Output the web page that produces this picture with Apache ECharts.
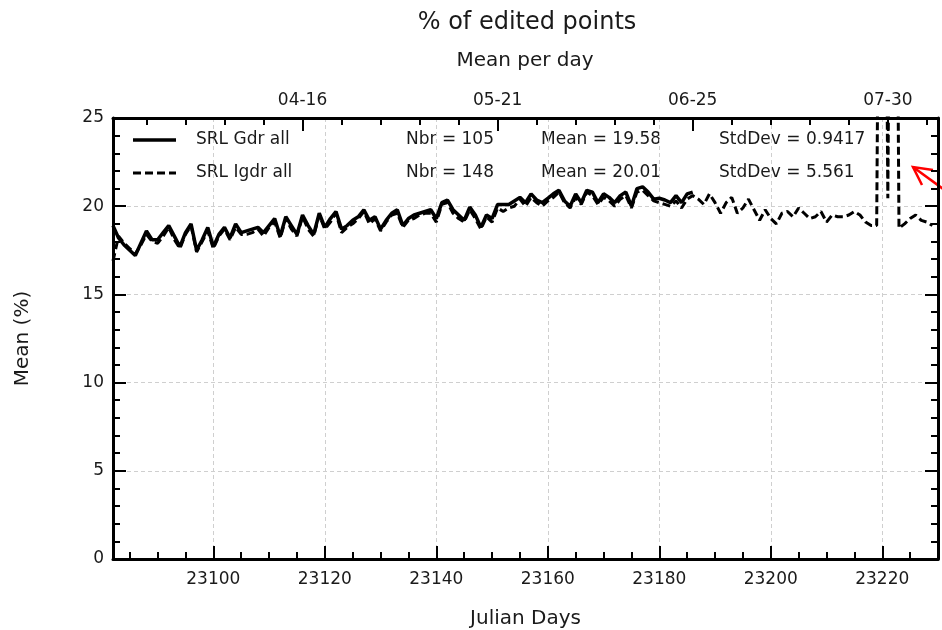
<!DOCTYPE html>
<html><head><meta charset="utf-8">
<script src="https://cdn.jsdelivr.net/npm/echarts@6/dist/echarts.min.js"></script>
<style>html,body{margin:0;padding:0;background:#fff}#c{width:942px;height:630px}</style>
</head><body><div id="c"></div>
<script>
// ---- data ----
const firstDay = 23082;
const seriesNames = ['SRL Gdr all', 'SRL Igdr all'];
// SRL Gdr all : one value per day from 23082 (105 days)
const gdrValues = [
 18.9,18.2,17.8,17.5,17.2,17.9,18.6,18.1,18.1,18.5,
 18.9,18.3,17.7,18.5,19.0,17.5,18.1,18.8,17.7,18.4,
 18.8,18.2,19.0,18.5,18.6,18.7,18.8,18.5,18.9,19.3,
 18.3,19.4,18.9,18.4,19.5,18.9,18.4,19.6,18.8,19.3,
 19.7,18.7,18.9,19.2,19.4,19.8,19.2,19.4,18.7,19.2,
 19.6,19.8,18.9,19.3,19.5,19.6,19.7,19.8,19.3,20.2,
 20.35,19.8,19.5,19.2,19.95,19.5,18.8,19.5,19.3,20.1,
 20.1,20.1,20.3,20.5,20.2,20.7,20.35,20.2,20.45,20.7,
 20.9,20.3,20.0,20.7,20.2,20.9,20.8,20.2,20.7,20.5,
 20.2,20.6,20.8,20.0,21.0,21.1,20.8,20.4,20.45,20.35,
 20.2,20.6,20.2,20.7,20.8
];
// SRL Igdr all : one value per day from 23082 (148 days)
const igdrValues = [
 16.9,18.3,17.9,17.6,17.3,17.8,18.4,18.0,17.9,18.3,
 18.8,18.1,17.6,18.4,18.9,17.4,18.0,18.6,17.6,18.3,
 18.7,18.1,18.8,18.4,18.4,18.5,18.7,18.3,18.8,19.1,
 18.2,19.3,18.7,18.3,19.4,18.7,18.3,19.5,18.7,19.1,
 19.6,18.5,18.8,19.0,19.3,19.7,19.0,19.3,18.6,19.1,
 19.5,19.6,18.8,19.2,19.3,19.5,19.6,19.6,19.1,20.1,
 20.2,19.6,19.3,19.1,19.8,19.3,18.7,19.4,19.1,19.9,
 19.7,19.9,20.0,20.4,20.0,20.5,20.2,20.0,20.3,20.5,
 20.8,20.2,19.9,20.5,20.1,20.8,20.6,20.1,20.5,20.3,
 20.0,20.4,20.6,19.9,20.8,20.9,20.6,20.3,20.2,20.1,
 20.0,20.3,19.9,20.4,20.6,
 20.4,20.1,20.7,20.2,19.6,20.2,20.5,19.6,19.9,20.4,
 19.8,19.2,19.8,19.3,19.0,19.6,19.7,19.4,19.9,19.6,
 19.3,19.4,19.7,19.1,19.5,19.4,19.4,19.5,19.7,19.5,
 19.1,18.9,18.9,64,20.45,66,18.75,19.0,19.3,19.5,
 19.2,19.1,18.9
];
const statNbr = ['105', '148'];
const statMean = ['19.58', '20.01'];
const statStd = ['0.9417', '5.561'];
const bottomTicks = [23100, 23120, 23140, 23160, 23180, 23200, 23220];
const bottomMinorTicks = [23085,23090,23095,23105,23110,23115,23125,23130,23135,23145,23150,23155,23165,23170,23175,23185,23190,23195,23205,23210,23215,23225];
const topTicks = [23116, 23151, 23186, 23221];
const topTickLabels = ['04-16', '05-21', '06-25', '07-30'];
const topMinorTicks = [23088,23095,23102,23109,23123,23130,23137,23144,23158,23165,23172,23179,23193,23200,23207,23214,23228];
const titleText = '% of edited points';
const subtitleText = 'Mean per day';

// ---- chart ----
const FONT = 'DejaVu Sans';
const TXT = '#1a1a1a';
const xMin = 23082, xMax = 23230;
const toPairs = (vals) => vals.map((v, i) => [firstDay + i, v]);

const baseX = {
  type: 'value', min: xMin, max: xMax,
  axisLine: { show: false, onZero: false },
  axisTick: { show: false }, axisLabel: { show: false }, splitLine: { show: false }
};

const chart = echarts.init(document.getElementById('c'));
chart.setOption({
  animation: false,
  backgroundColor: '#fff',
  grid: { left: 113, right: 4, top: 118, bottom: 71, containLabel: false, outerBoundsMode: 'none' },
  xAxis: [
    Object.assign({}, baseX, {
      position: 'bottom',
      axisLine: { show: true, onZero: false, lineStyle: { color: '#000', width: 3 } },
      axisTick: { show: true, inside: true, length: 13, customValues: bottomTicks, lineStyle: { color: '#000', width: 2 } },
      axisLabel: { show: true, customValues: bottomTicks, fontSize: 17, fontFamily: FONT, color: TXT, margin: 12,
        formatter: (v) => String(Math.round(v)) },
      splitLine: { show: true, lineStyle: { color: '#cfcfcf', type: [4, 3], width: 1 } },
      name: 'Julian Days', nameLocation: 'middle', nameGap: 50,
      nameTextStyle: { fontSize: 20, fontFamily: FONT, color: TXT }
    }),
    Object.assign({}, baseX, {
      position: 'bottom',
      axisTick: { show: true, inside: true, length: 7, customValues: bottomMinorTicks, lineStyle: { color: '#000', width: 2 } }
    }),
    Object.assign({}, baseX, {
      position: 'top',
      axisLine: { show: true, onZero: false, lineStyle: { color: '#000', width: 3 } },
      axisTick: { show: true, inside: true, length: 13, customValues: topTicks, lineStyle: { color: '#000', width: 2 } },
      axisLabel: { show: true, customValues: topTicks, fontSize: 17, fontFamily: FONT, color: TXT, margin: 9,
        formatter: (v) => topTickLabels[topTicks.indexOf(Math.round(v))] || '' }
    }),
    Object.assign({}, baseX, {
      position: 'top',
      axisTick: { show: true, inside: true, length: 7, customValues: topMinorTicks, lineStyle: { color: '#000', width: 2 } }
    })
  ],
  yAxis: [
    {
      type: 'value', min: 0, max: 25, interval: 5, position: 'left',
      axisLine: { show: true, onZero: false, lineStyle: { color: '#000', width: 3 } },
      axisTick: { show: true, inside: true, length: 13, lineStyle: { color: '#000', width: 2 } },
      minorTick: { show: true, splitNumber: 5, length: 7, lineStyle: { color: '#000', width: 2 } },
      axisLabel: { fontSize: 17, fontFamily: FONT, color: TXT, margin: 9 },
      splitLine: { show: true, lineStyle: { color: '#cfcfcf', type: [4, 3], width: 1 } },
      name: 'Mean (%)', nameLocation: 'middle', nameGap: 80, nameRotate: 90,
      nameTextStyle: { fontSize: 20, fontFamily: FONT, color: TXT }
    },
    {
      type: 'value', min: 0, max: 25, interval: 5, position: 'right',
      axisLine: { show: true, onZero: false, lineStyle: { color: '#000', width: 3 } },
      axisTick: { show: true, inside: true, length: 13, lineStyle: { color: '#000', width: 2 } },
      minorTick: { show: true, splitNumber: 5, length: 7, lineStyle: { color: '#000', width: 2 } },
      axisLabel: { show: false }, splitLine: { show: false }
    }
  ],
  series: [
    {
      name: seriesNames[0], type: 'line', xAxisIndex: 0, yAxisIndex: 0,
      data: toPairs(gdrValues), showSymbol: false, symbol: 'none', clip: true,
      lineStyle: { color: '#000', width: 3.5, type: 'solid' }, z: 3
    },
    {
      name: seriesNames[1], type: 'line', xAxisIndex: 0, yAxisIndex: 0,
      data: toPairs(igdrValues), showSymbol: false, symbol: 'none', clip: true,
      lineStyle: { color: '#000', width: 3, type: [8, 4] }, z: 4
    }
  ],
  graphic: [
    { type: 'text', x: 527, y: 23, style: { text: titleText, fontSize: 24, fontFamily: FONT, fill: TXT, align: 'center', verticalAlign: 'middle' } },
    { type: 'text', x: 525, y: 61, style: { text: subtitleText, fontSize: 20, fontFamily: FONT, fill: TXT, align: 'center', verticalAlign: 'middle' } },
    { type: 'line', shape: { x1: 133, y1: 140, x2: 176, y2: 140 }, style: { stroke: '#000', lineWidth: 3.5 } },
    { type: 'line', shape: { x1: 133, y1: 173, x2: 176, y2: 173 }, style: { stroke: '#000', lineWidth: 3, lineDash: [8, 4] } },
    { type: 'text', x: 196, y: 140, style: { text: seriesNames[0], fontSize: 17, fontFamily: FONT, fill: TXT, verticalAlign: 'middle' } },
    { type: 'text', x: 196, y: 173, style: { text: seriesNames[1], fontSize: 17, fontFamily: FONT, fill: TXT, verticalAlign: 'middle' } },
    { type: 'text', x: 406, y: 140, style: { text: 'Nbr = ' + statNbr[0], fontSize: 17, fontFamily: FONT, fill: TXT, verticalAlign: 'middle' } },
    { type: 'text', x: 406, y: 173, style: { text: 'Nbr = ' + statNbr[1], fontSize: 17, fontFamily: FONT, fill: TXT, verticalAlign: 'middle' } },
    { type: 'text', x: 541, y: 140, style: { text: 'Mean = ' + statMean[0], fontSize: 17, fontFamily: FONT, fill: TXT, verticalAlign: 'middle' } },
    { type: 'text', x: 541, y: 173, style: { text: 'Mean = ' + statMean[1], fontSize: 17, fontFamily: FONT, fill: TXT, verticalAlign: 'middle' } },
    { type: 'text', x: 719, y: 140, style: { text: 'StdDev = ' + statStd[0], fontSize: 17, fontFamily: FONT, fill: TXT, verticalAlign: 'middle' } },
    { type: 'text', x: 719, y: 173, style: { text: 'StdDev = ' + statStd[1], fontSize: 17, fontFamily: FONT, fill: TXT, verticalAlign: 'middle' } },
    { type: 'polyline', shape: { points: [[913, 167], [946, 191]] }, style: { stroke: '#ff0000', lineWidth: 2.5, fill: null } },
    { type: 'polyline', shape: { points: [[933, 170], [913, 167], [922, 185]] }, style: { stroke: '#ff0000', lineWidth: 2.5, fill: null } }
  ]
});
</script>
</body></html>
